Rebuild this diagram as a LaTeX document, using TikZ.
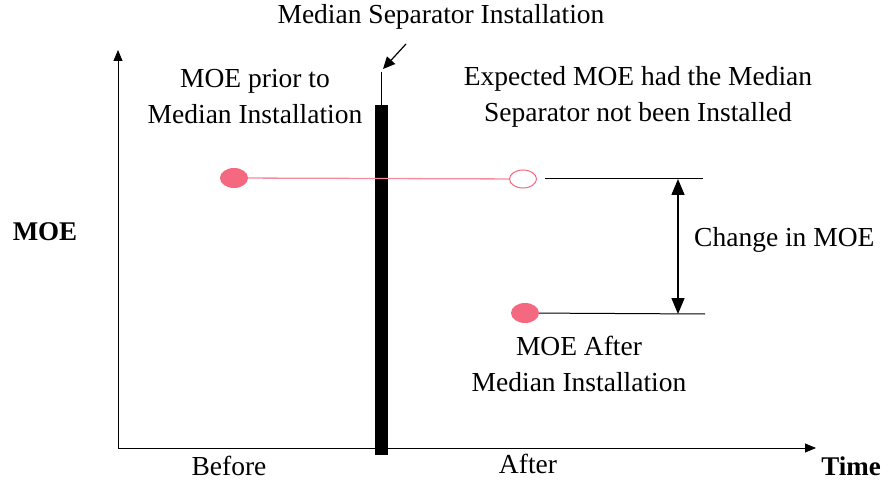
\documentclass[tikz,border=0pt]{standalone}
\usepackage{fontspec}
\setmainfont{Liberation Serif}
\usetikzlibrary{positioning, arrows.meta, shapes.geometric}
\definecolor{moepink}{RGB}{244,104,128}
\definecolor{linepink}{RGB}{242,140,158}
\begin{document}
\begin{tikzpicture}[
  x=1pt, y=-1pt,
  every node/.style={align=center, inner sep=1pt, font=\fontsize{27.5}{36}\selectfont},
  dot/.style={ellipse, minimum width=28pt, minimum height=20pt, inner sep=0pt},
  full/.style={dot, fill=moepink},
  hollow/.style={dot, draw=moepink, line width=1pt, fill=white, minimum width=27pt, minimum height=18pt},
  axis/.style={-{Triangle[length=11pt, width=9pt]}, line width=0.8pt},
  axislabel/.style={inner sep=0pt, font=\fontsize{27}{30}\selectfont\bfseries}
]
\useasboundingbox (0,0) rectangle (889,481);

% Axes
\coordinate (origin) at (118,448);
\coordinate (ytop) at (118,50);
\coordinate (xend) at (816,448);
\draw[axis] (origin) -- (ytop);
\draw[axis] (origin) -- (xend);
\node[axislabel] (moe) at (45,232) {MOE};
\node[axislabel] (time) at (851,466) {Time};
\node (before) at (229,466) {Before};
\node (after) at (528,464) {After};

% Median separator
\coordinate (bartop) at (381,105);
\coordinate (barbot) at (381,455);
\coordinate (ticktop) at (381,72);
\draw[line width=13pt] (bartop) -- (barbot);
\draw[line width=1pt] (ticktop) -- (bartop);
\node (sep) at (441,17) {Median Separator Installation};
\coordinate (arrstart) at (406,44);
\coordinate (arrend) at (383,69);
\draw[-{Triangle[length=12pt, width=11pt]}, line width=1.2pt] (arrstart) -- (arrend);

% MOE points
\node[full] (prior) at (234,178) {};
\node[hollow] (expected) at (523,179) {};
\node[full] (post) at (525,313) {};
\draw[linepink, line width=1.3pt] (prior) -- (expected);
\node (priortxt) at (255,97) {MOE prior to\\Median Installation};
\node (exptxt) at (638,97) {Expected MOE had the Median\\Separator not been Installed};
\node (posttxt) at (579,364) {MOE After\\Median Installation};

% Change in MOE
\coordinate (upL) at (545,179);
\coordinate (upR) at (703,179);
\coordinate (loR) at (705,314);
\coordinate (upA) at (678,179);
\coordinate (loA) at (678,314);
\draw[line width=1pt] (upL) -- (upR);
\draw[line width=1pt] (post) -- (loR);
\draw[{Triangle[length=16pt, width=13pt]}-{Triangle[length=16pt, width=13pt]}, line width=1.5pt] (upA) -- (loA);
\node[anchor=west] (change) at (693,240) {Change in MOE};

\end{tikzpicture}
\end{document}
